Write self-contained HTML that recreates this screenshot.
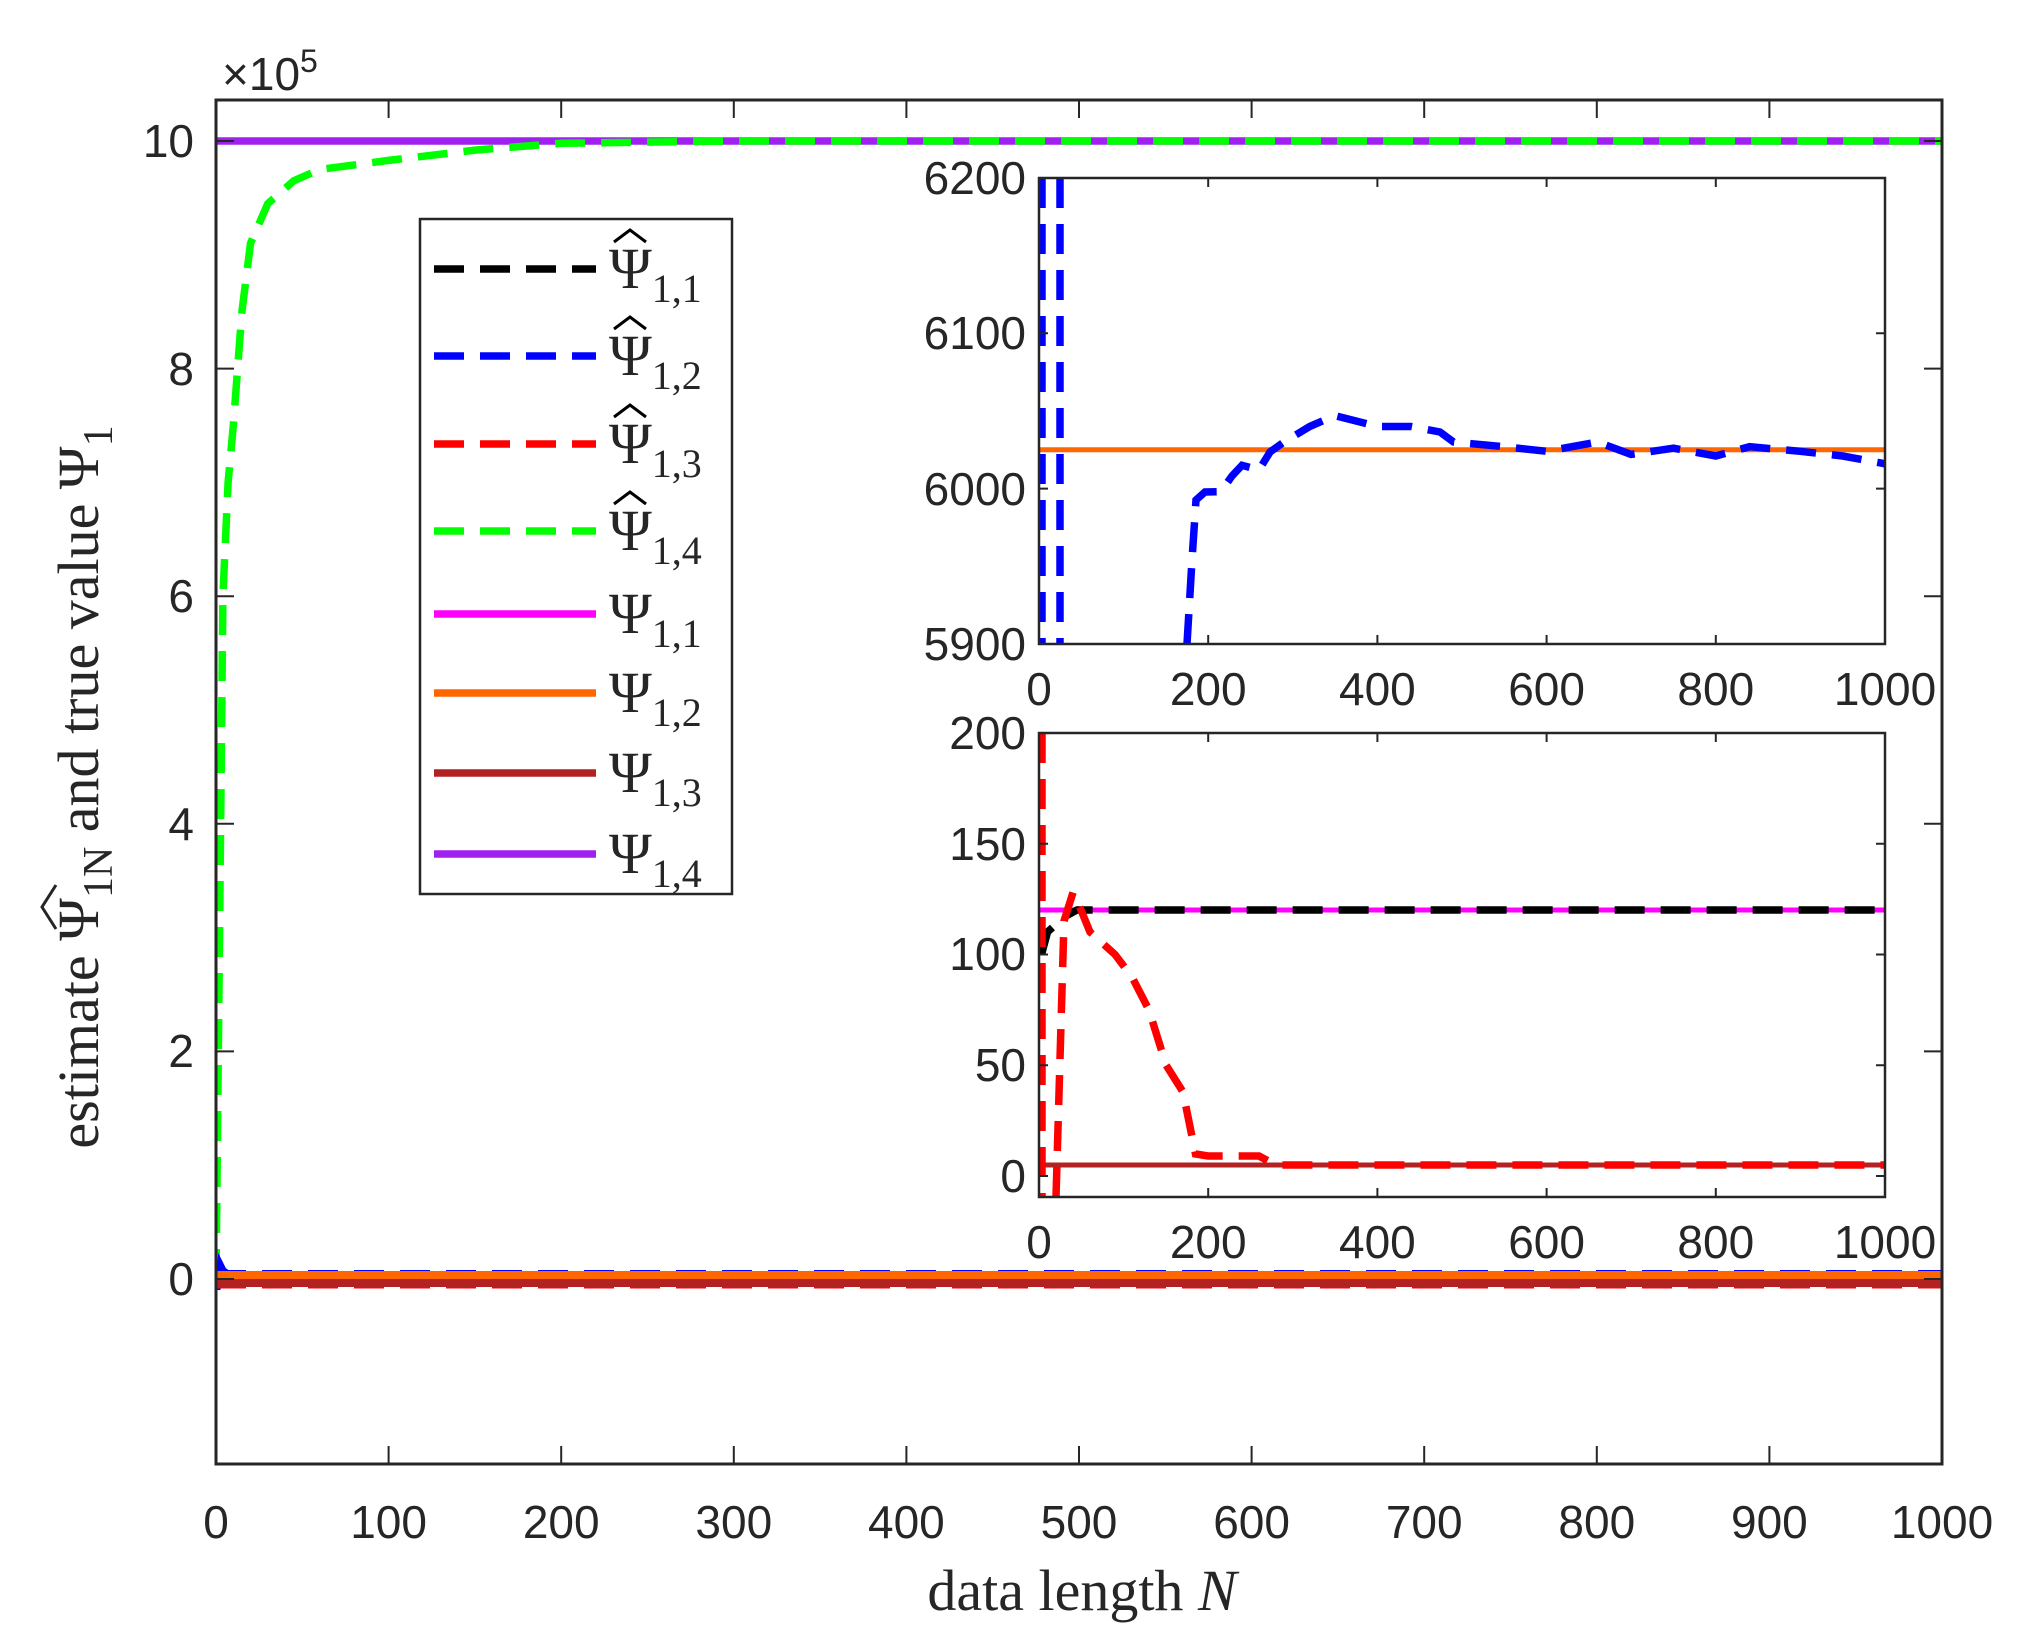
<!DOCTYPE html>
<html><head><meta charset="utf-8"><style>
html,body{margin:0;padding:0;background:#fff;}
svg{display:block;}
.t{font-family:"Liberation Sans",sans-serif;font-size:46px;fill:#262626;}
.s{font-family:"Liberation Serif",serif;font-size:58px;fill:#262626;}
</style></head><body>
<svg width="2031" height="1651" viewBox="0 0 2031 1651" xmlns="http://www.w3.org/2000/svg">
<rect width="2031" height="1651" fill="#fff"/>
<defs>
<clipPath id="cm"><rect x="216" y="100" width="1726" height="1364"/></clipPath>
<clipPath id="c1"><rect x="1039" y="178" width="846" height="466"/></clipPath>
<clipPath id="c2"><rect x="1039" y="733" width="846" height="464"/></clipPath>
</defs>
<g clip-path="url(#cm)" fill="none" stroke-width="7.5">
<line x1="216" y1="141" x2="1942" y2="141" stroke="#a020f0"/>
<polyline stroke="#00ff00" stroke-dasharray="30,16" points="216,1279 219.5,937.6 222.9,596.2 228.1,482.4 233.3,425.5 241.9,311.7 250.5,243.4 267.8,203.6 293.7,180.8 319.6,169.5 388.6,160.4 474.9,150.1 561.2,143.3 733.8,141 1942,141"/>
<polyline stroke="#0000ff" stroke-width="5" points="218,1290 220,1262 224,1270 230,1274 240,1276"/>
<line x1="216" y1="1272" x2="1942" y2="1272" stroke="#0000ff" stroke-width="4" stroke-dasharray="30,16"/>
<line x1="216" y1="1287" x2="1942" y2="1287" stroke="#ff0000" stroke-width="3" stroke-dasharray="30,16"/>
<line x1="216" y1="1276" x2="1942" y2="1276" stroke="#ff6600" stroke-width="10"/>
<line x1="216" y1="1283" x2="1942" y2="1283" stroke="#b22222" stroke-width="8"/>
</g>
<g stroke="#262626" stroke-width="3" fill="none">
<rect x="216" y="100" width="1726" height="1364"/>
<path d="M388.6,1464v-18M561.2,1464v-18M733.8,1464v-18M906.4,1464v-18M1079,1464v-18M1251.6,1464v-18M1424.2,1464v-18M1596.8,1464v-18M1769.4,1464v-18
M388.6,100v18M561.2,100v18M733.8,100v18M906.4,100v18M1079,100v18M1251.6,100v18M1424.2,100v18M1596.8,100v18M1769.4,100v18
M216,141h18M216,368.6h18M216,596.2h18M216,823.8h18M216,1051.4h18M216,1279h18
M1942,141h-18M1942,368.6h-18M1942,596.2h-18M1942,823.8h-18M1942,1051.4h-18M1942,1279h-18" stroke-width="2"/>
</g>
<g class="t" text-anchor="end">
<text x="194" y="157">10</text><text x="194" y="385">8</text><text x="194" y="612">6</text>
<text x="194" y="840">4</text><text x="194" y="1067">2</text><text x="194" y="1295">0</text>
</g>
<g class="t" text-anchor="middle">
<text x="216" y="1538">0</text><text x="388.6" y="1538">100</text><text x="561.2" y="1538">200</text>
<text x="733.8" y="1538">300</text><text x="906.4" y="1538">400</text><text x="1079" y="1538">500</text>
<text x="1251.6" y="1538">600</text><text x="1424.2" y="1538">700</text><text x="1596.8" y="1538">800</text>
<text x="1769.4" y="1538">900</text><text x="1942" y="1538">1000</text>
</g>
<text class="t" x="222" y="90">×10<tspan dy="-18" font-size="32">5</tspan></text>
<text class="s" x="1082" y="1610" text-anchor="middle">data length <tspan font-style="italic">N</tspan></text>
<g transform="translate(98,787) rotate(-90)">
<text class="s" text-anchor="middle" font-size="60">estimate Ψ<tspan font-size="42" dy="14">1N</tspan><tspan dy="-14"> and true value Ψ</tspan><tspan font-size="42" dy="14">1</tspan></text>
<path d="M-142,-42 L-120,-56 L-98,-42" fill="none" stroke="#262626" stroke-width="3"/>
</g>
<rect x="420" y="219" width="312" height="675" fill="#fff" stroke="#262626" stroke-width="2.5"/>
<g fill="none" stroke-width="7.5">
<line x1="434" y1="269" x2="596" y2="269" stroke="#000" stroke-dasharray="30,16"/>
<line x1="434" y1="356" x2="596" y2="356" stroke="#0000ff" stroke-dasharray="30,16"/>
<line x1="434" y1="444" x2="596" y2="444" stroke="#ff0000" stroke-dasharray="30,16"/>
<line x1="434" y1="531" x2="596" y2="531" stroke="#00ff00" stroke-dasharray="30,16"/>
<line x1="434" y1="614" x2="596" y2="614" stroke="#ff00ff"/>
<line x1="434" y1="693" x2="596" y2="693" stroke="#ff6600"/>
<line x1="434" y1="773" x2="596" y2="773" stroke="#b22222"/>
<line x1="434" y1="854" x2="596" y2="854" stroke="#a020f0"/>
</g>
<g fill="none" stroke="#000" stroke-width="3">
<path d="M614,242 L630,230 L646,242"/>
<path d="M614,329 L630,317 L646,329"/>
<path d="M614,417 L630,405 L646,417"/>
<path d="M614,504 L630,492 L646,504"/>
</g>
<g class="s" font-size="56" fill="#000">
<text x="609" y="288">Ψ<tspan font-size="40" dy="14">1,1</tspan></text>
<text x="609" y="375">Ψ<tspan font-size="40" dy="14">1,2</tspan></text>
<text x="609" y="463">Ψ<tspan font-size="40" dy="14">1,3</tspan></text>
<text x="609" y="550">Ψ<tspan font-size="40" dy="14">1,4</tspan></text>
<text x="609" y="633">Ψ<tspan font-size="40" dy="14">1,1</tspan></text>
<text x="609" y="712">Ψ<tspan font-size="40" dy="14">1,2</tspan></text>
<text x="609" y="792">Ψ<tspan font-size="40" dy="14">1,3</tspan></text>
<text x="609" y="873">Ψ<tspan font-size="40" dy="14">1,4</tspan></text>
</g>
<rect x="1039" y="178" width="846" height="466" fill="#fff"/>
<g clip-path="url(#c1)" fill="none" stroke-width="7.5">
<line x1="1039" y1="449.8" x2="1885" y2="449.8" stroke="#ff6600" stroke-width="5"/>
<line x1="1042" y1="178" x2="1042" y2="644" stroke="#0000ff" stroke-dasharray="30,16"/>
<line x1="1060" y1="178" x2="1060" y2="644" stroke="#0000ff" stroke-dasharray="30,16"/>
<polyline stroke="#0000ff" stroke-dasharray="30,16" points="1187,644 1192,560 1196,500 1205,492 1220.9,491.7 1232,476 1242,465.3 1259,470 1270,452 1284,442 1309.7,426.5 1335,415.6 1360,422 1377.4,426.5 1411,426.5 1440,432 1453.5,442 1504,446.7 1546.6,451.3 1597.4,442 1631,454.4 1673.5,448.2 1715.8,456 1749.6,446.7 1800,451.3 1842.7,456 1885,463.8"/>
</g>
<g stroke="#262626" fill="none">
<rect x="1039" y="178" width="846" height="466" stroke-width="2.5"/>
<path stroke-width="2" d="M1208.2,644v-9M1377.4,644v-9M1546.6,644v-9M1715.8,644v-9M1208.2,178v9M1377.4,178v9M1546.6,178v9M1715.8,178v9
M1039,333.3h9M1039,488.6h9M1885,333.3h-9M1885,488.6h-9"/>
</g>
<g class="t" text-anchor="end">
<text x="1026" y="194">6200</text><text x="1026" y="349">6100</text><text x="1026" y="505">6000</text><text x="1026" y="660">5900</text>
</g>
<g class="t" text-anchor="middle">
<text x="1039" y="705">0</text><text x="1208.2" y="705">200</text><text x="1377.4" y="705">400</text>
<text x="1546.6" y="705">600</text><text x="1715.8" y="705">800</text><text x="1885" y="705">1000</text>
</g>
<rect x="1039" y="733" width="846" height="464" fill="#fff"/>
<g clip-path="url(#c2)" fill="none" stroke-width="7.5">
<line x1="1039" y1="910" x2="1885" y2="910" stroke="#ff00ff" stroke-width="5"/>
<line x1="1039" y1="1165" x2="1885" y2="1165" stroke="#b22222" stroke-width="5"/>
<polyline stroke="#000" stroke-dasharray="30,16" points="1041.5,954.5 1047.5,932 1064,917 1077,910 1885,910"/>
<line x1="1042" y1="733" x2="1042" y2="1197" stroke="#ff0000" stroke-dasharray="30,16"/>
<polyline stroke="#ff0000" stroke-dasharray="30,16" points="1056,1197 1064,921 1073,892.5 1081,910 1090,932 1115,954.5 1132,977 1149,1010 1166,1065 1183,1092 1195.5,1154 1208,1156 1259,1156 1276,1165 1885,1165"/>
</g>
<g stroke="#262626" fill="none">
<rect x="1039" y="733" width="846" height="464" stroke-width="2.5"/>
<path stroke-width="2" d="M1208.2,1197v-9M1377.4,1197v-9M1546.6,1197v-9M1715.8,1197v-9M1208.2,733v9M1377.4,733v9M1546.6,733v9M1715.8,733v9
M1039,843.75h9M1039,954.5h9M1039,1065.25h9M1039,1176h9M1885,843.75h-9M1885,954.5h-9M1885,1065.25h-9M1885,1176h-9"/>
</g>
<g class="t" text-anchor="end">
<text x="1026" y="749">200</text><text x="1026" y="860">150</text><text x="1026" y="970">100</text>
<text x="1026" y="1081">50</text><text x="1026" y="1192">0</text>
</g>
<g class="t" text-anchor="middle">
<text x="1039" y="1258">0</text><text x="1208.2" y="1258">200</text><text x="1377.4" y="1258">400</text>
<text x="1546.6" y="1258">600</text><text x="1715.8" y="1258">800</text><text x="1885" y="1258">1000</text>
</g>
</svg>
</body></html>
